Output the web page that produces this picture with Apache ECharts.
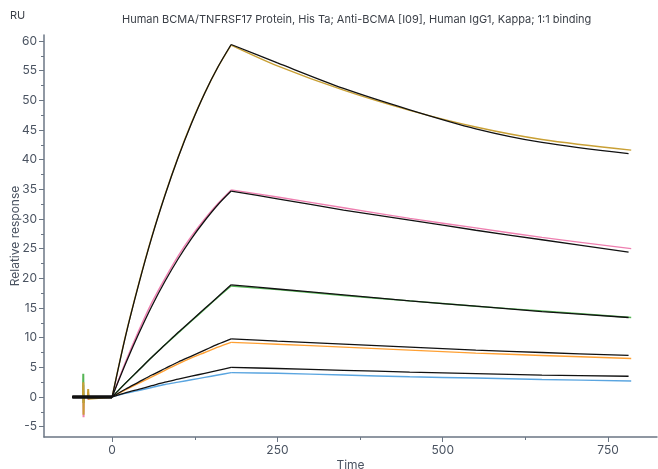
<!DOCTYPE html>
<html><head><meta charset="utf-8">
<script src="https://cdn.jsdelivr.net/npm/echarts@6/dist/echarts.min.js"></script>
<style>html,body{margin:0;padding:0;background:#fff}#c{width:658px;height:469px}</style>
</head><body><div id="c"></div>
<script>
const titleText = 'Human BCMA/TNFRSF17 Protein, His Ta; Anti-BCMA [I09], Human IgG1, Kappa; 1:1 binding';
const unitText = 'RU';
const xName = 'Time';
const yName = 'Relative response';
const xTickLabels = [0, 250, 500, 750];
const xMinorTicks = [125, 375, 625];
const yTickLabels = [-5, 0, 5, 10, 15, 20, 25, 30, 35, 40, 45, 50, 55, 60];
const yMinorTicks = [-2.5, 2.5, 7.5, 12.5, 17.5, 22.5, 27.5, 32.5, 37.5, 42.5, 47.5, 52.5, 57.5];

// time points
const baseT = [-60, -44, -43.6, -43.2, -42.8, -36.6, -36.2, -35.8, -35.4, 0];
const assocT = [0, 20, 40, 60, 80, 100, 120, 140, 160, 180];
const dissocT = [180, 250, 350, 450, 550, 650, 785];
const fitBaseT = [-60, 0];
const fitDissocT = [180, 250, 350, 450, 550, 650, 781];

// measured curves (highest to lowest concentration)
const goldBase = [0, 0, 2.5, -3.0, 0, 0, 1.35, -0.3, 0, 0];
const goldAssoc = [0, 10.2, 19.0, 27.0, 34.1, 40.5, 46.2, 51.2, 55.6, 59.3];
const goldDissoc = [59.3, 55.8, 51.7, 48.3, 45.5, 43.4, 41.6];
const pinkBase = [0, 0, 2.0, -3.4, 0, 0, 0.8, -0.5, 0, 0];
const pinkAssoc = [0, 5.8, 11.1, 15.9, 20.0, 23.8, 27.1, 30.0, 32.6, 34.9];
const pinkDissoc = [34.9, 33.7, 31.9, 30.1, 28.5, 26.9, 25.0];
const greenBase = [0, 0, 3.9, -1.0, 0, 0, 0.5, 0, 0, 0];
const greenAssoc = [0, 2.3, 4.5, 6.7, 8.8, 10.8, 12.8, 14.8, 16.8, 18.7];
const greenDissoc = [18.7, 18.1, 17.1, 16.2, 15.3, 14.5, 13.4];
const orangeBase = [0, 0, 1.0, -1.0, 0, 0, 0.3, 0, 0, 0];
const orangeAssoc = [0, 1.2, 2.3, 3.4, 4.5, 5.6, 6.6, 7.5, 8.4, 9.2];
const orangeDissoc = [9.2, 8.9, 8.4, 7.9, 7.4, 7.0, 6.5];
const blueBase = [0, 0, 0.5, -0.5, 0, 0, 0.2, 0, 0, 0];
const blueAssoc = [0, 0.6, 1.1, 1.6, 2.1, 2.5, 2.9, 3.3, 3.7, 4.1];
const blueDissoc = [4.1, 4.0, 3.7, 3.4, 3.2, 2.95, 2.7];

// 1:1 fits
const fitBase = [0, 0];
const fit1Assoc = [0, 10.1, 18.9, 26.9, 34.0, 40.4, 46.1, 51.2, 55.6, 59.4];
const fit1Dissoc = [59.4, 56.3, 52.0, 48.4, 45.2, 42.9, 41.0];
const fit2Assoc = [0, 5.5, 10.6, 15.3, 19.5, 23.3, 26.7, 29.7, 32.4, 34.7];
const fit2Dissoc = [34.7, 33.4, 31.5, 29.8, 28.1, 26.5, 24.4];
const fit3Assoc = [0, 2.3, 4.5, 6.7, 8.8, 10.9, 12.9, 14.9, 16.9, 18.9];
const fit3Dissoc = [18.9, 18.2, 17.2, 16.2, 15.3, 14.4, 13.4];
const fit4Assoc = [0, 1.3, 2.5, 3.7, 4.8, 5.9, 6.9, 7.9, 8.9, 9.8];
const fit4Dissoc = [9.8, 9.4, 8.9, 8.4, 7.9, 7.5, 7.0];
const fit5Assoc = [0, 0.7, 1.3, 1.9, 2.5, 3.0, 3.5, 4.0, 4.5, 5.0];
const fit5Dissoc = [5.0, 4.8, 4.5, 4.2, 3.95, 3.7, 3.5];

function pairs(ts, vs) { return ts.map((t, i) => [t, vs[i]]); }

const FONT = 'Inter';
const axisCol = '#6b7684';
const labCol = '#4a5361';

function line(data, color, width, z, smooth) {
  return { type: 'line', data, showSymbol: false, symbol: 'none', z: z, smooth: smooth || false,
    lineStyle: { color, width }, itemStyle: { color }, animation: false, silent: true };
}
function measured(base, assoc, dissoc, color) {
  return [
    line(pairs(baseT, base), color, 2, 2, false),
    line(pairs(assocT, assoc), color, 1.4, 2, 0.3),
    line(pairs(dissocT, dissoc), color, 1.4, 2, 0.3)
  ];
}
function fitted(assoc, dissoc) {
  return [
    line(pairs(fitBaseT, fitBase), '#111', 2.6, 3, false),
    line(pairs(assocT, assoc), '#111', 1.3, 3, 0.3),
    line(pairs(fitDissocT, dissoc), '#111', 1.3, 3, 0.3)
  ];
}

const chart = echarts.init(document.getElementById('c'), null, { renderer: 'canvas' });
chart.setOption({
  animation: false,
  title: { text: titleText, left: 117, top: 9,
    textStyle: { fontFamily: FONT, fontSize: 11, fontWeight: 'normal', color: '#3a3f47' } },
  graphic: [{ type: 'text', left: 10, top: 10,
    style: { text: unitText, fontFamily: FONT, fontSize: 11, fill: '#3a3f47' } }],
  grid: { left: 44, right: 1, top: 35, bottom: 32, containLabel: false, outerBoundsMode: 'none' },
  xAxis: [{
    type: 'value', min: -103, max: 824, name: xName, nameLocation: 'middle', nameGap: 22,
    nameMoveOverlap: false,
    nameTextStyle: { fontFamily: FONT, fontSize: 12, color: labCol },
    axisLine: { show: true, onZero: false, lineStyle: { color: axisCol, width: 1.5 } },
    axisTick: { show: true, length: 5, customValues: xTickLabels, lineStyle: { color: axisCol } },
    axisLabel: { customValues: xTickLabels, fontFamily: FONT, fontSize: 12, color: labCol, margin: 7 },
    splitLine: { show: false }
  }, {
    type: 'value', min: -103, max: 824, position: 'bottom',
    axisLine: { show: false, onZero: false },
    axisTick: { show: true, length: 3, customValues: xMinorTicks, lineStyle: { color: axisCol } },
    axisLabel: { show: false }, splitLine: { show: false }
  }],
  yAxis: [{
    type: 'value', min: -6.74, max: 61, name: yName, nameLocation: 'middle', nameGap: 23,
    nameMoveOverlap: false,
    nameTextStyle: { fontFamily: FONT, fontSize: 12, color: labCol },
    axisLine: { show: true, onZero: false, lineStyle: { color: axisCol, width: 1.5 } },
    axisTick: { show: true, length: 5, customValues: yTickLabels, lineStyle: { color: axisCol } },
    axisLabel: { customValues: yTickLabels, fontFamily: FONT, fontSize: 12, color: labCol, margin: 7 },
    splitLine: { show: false }
  }, {
    type: 'value', min: -6.74, max: 61, position: 'left',
    axisLine: { show: false, onZero: false },
    axisTick: { show: true, length: 3, customValues: yMinorTicks, lineStyle: { color: axisCol } },
    axisLabel: { show: false }, splitLine: { show: false }
  }],
  series: [].concat(
    measured(blueBase, blueAssoc, blueDissoc, '#5aa5e0'),
    measured(orangeBase, orangeAssoc, orangeDissoc, '#ffa033'),
    measured(pinkBase, pinkAssoc, pinkDissoc, '#ee7fb0'),
    measured(greenBase, greenAssoc, greenDissoc, '#55b555'),
    measured(goldBase, goldAssoc, goldDissoc, '#c9a035'),
    fitted(fit1Assoc, fit1Dissoc),
    fitted(fit2Assoc, fit2Dissoc),
    fitted(fit3Assoc, fit3Dissoc),
    fitted(fit4Assoc, fit4Dissoc),
    fitted(fit5Assoc, fit5Dissoc)
  )
});
</script></body></html>
